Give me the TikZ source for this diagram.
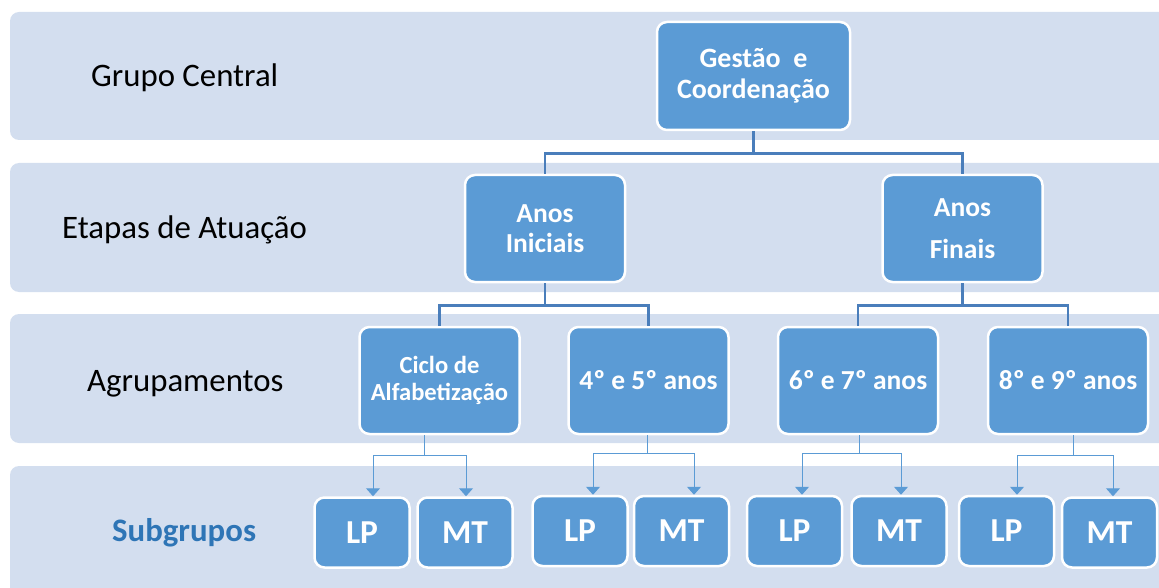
\documentclass[tikz,border=0pt]{standalone}
\usepackage{fontspec}
\setmainfont{Carlito}
\usetikzlibrary{arrows.meta,calc}
\definecolor{band}{HTML}{D3DEEF}
\definecolor{nodefill}{HTML}{5B9BD5}
\definecolor{treeline}{HTML}{4A7EBB}
\definecolor{subline}{HTML}{5B9BD5}
\definecolor{subtext}{HTML}{2E75B6}
\begin{document}
\begin{tikzpicture}[x=1pt,y=-1pt,
 bandbox/.style={fill=band, rounded corners=9pt},
 box/.style={fill=nodefill, draw=white, line width=2.5pt, rounded corners=10pt, text=white, align=center, inner sep=0pt},
 lvl/.style={box, minimum width=160pt, minimum height=107pt, font=\bfseries\fontsize{27.5}{30}\selectfont},
 subbox/.style={box, minimum width=95pt, minimum height=70pt, font=\bfseries\fontsize{33.5}{36}\selectfont},
 tree/.style={draw=treeline, line width=2.8pt},
 subarrow/.style={draw=subline, line width=1pt, -{Triangle[length=8pt,width=14pt]}},
 rowlabel/.style={anchor=base west, font=\fontsize{32.8}{38}\selectfont, inner sep=0pt}
]
\useasboundingbox (0,0) rectangle (1159,588);
\clip (0,0) rectangle (1159,588);
% bands
\fill[bandbox] (10,12) rectangle (1180,140);
\fill[bandbox] (10,163) rectangle (1180,292);
\fill[bandbox] (10,314) rectangle (1180,443);
\fill[bandbox] (10,466) rectangle (1180,610);
% row labels
\node[rowlabel] (l1) at (91,87) {Grupo Central};
\node[rowlabel] (l2) at (62,239) {Etapas de Atuação};
\node[rowlabel] (l3) at (87,391) {Agrupamentos};
\node[rowlabel, text=subtext, font=\bfseries\fontsize{32.8}{36}\selectfont] (l4) at (112,541) {Subgrupos};
% nodes
\node[box, minimum width=193pt, minimum height=108pt, font=\bfseries\fontsize{28}{31}\selectfont] (g) at (753.5,76) {Gestão\ \ e\\Coordenação};
\node[lvl] (ai) at (545,228.5) {Anos\\Iniciais};
\node[lvl, font=\bfseries\fontsize{27.5}{42}\selectfont] (af) at (962.5,228.5) {Anos\\Finais};
\node[lvl, font=\bfseries\fontsize{24.6}{27.5}\selectfont] (c1) at (439.5,380.5) {Ciclo de\\Alfabetização};
\node[lvl] (c2) at (648.5,380.5) {\raisebox{2pt}{4º e 5º anos}};
\node[lvl] (c3) at (858,380.5) {\raisebox{2pt}{6º e 7º anos}};
\node[lvl] (c4) at (1068,380.5) {\raisebox{2pt}{8º e 9º anos}};
\node[subbox] (lp1) at (362,532.5) {LP};
\node[subbox] (mt1) at (465,532.5) {MT};
\node[subbox] (lp2) at (580,531) {LP};
\node[subbox] (mt2) at (681.5,531) {MT};
\node[subbox] (lp3) at (794.5,531) {LP};
\node[subbox] (mt3) at (899,531) {MT};
\node[subbox] (lp4) at (1006.5,531) {LP};
\node[subbox] (mt4) at (1109.5,532.5) {MT};
% tree connectors
\draw[tree] (g.south) -- ++(0,22) -| (ai.north);
\draw[tree] (g.south) -- ++(0,22) -| (af.north);
\draw[tree] (ai.south) -- ++(0,22) -| (c1.north);
\draw[tree] (ai.south) -- ++(0,22) -| (c2.north);
\draw[tree] (af.south) -- ++(0,22) -| (c3.north);
\draw[tree] (af.south) -- ++(0,22) -| (c4.north);
% subgroup connectors
\coordinate (s1) at ($(c1.south)+(-15.5,0)$);
\coordinate (s2) at ($(c2.south)+(-1.5,0)$);
\coordinate (s3) at ($(c3.south)+(1,0)$);
\coordinate (s4) at ($(c4.south)+(5,0)$);
\draw[subarrow] (s1) -- ++(0,20) -| ([xshift=11pt]lp1.north);
\draw[subarrow] (s1) -- ++(0,20) -| ([xshift=1pt]mt1.north);
\draw[subarrow] (s2) -- ++(0,18) -| ([xshift=13pt]lp2.north);
\draw[subarrow] (s2) -- ++(0,18) -| ([xshift=12.5pt]mt2.north);
\draw[subarrow] (s3) -- ++(0,18) -| ([xshift=7.5pt]lp3.north);
\draw[subarrow] (s3) -- ++(0,18) -| ([xshift=2pt]mt3.north);
\draw[subarrow] (s4) -- ++(0,20) -| ([xshift=10.5pt]lp4.north);
\draw[subarrow] (s4) -- ++(0,20) -| ([xshift=3.5pt]mt4.north);
\end{tikzpicture}
\end{document}
